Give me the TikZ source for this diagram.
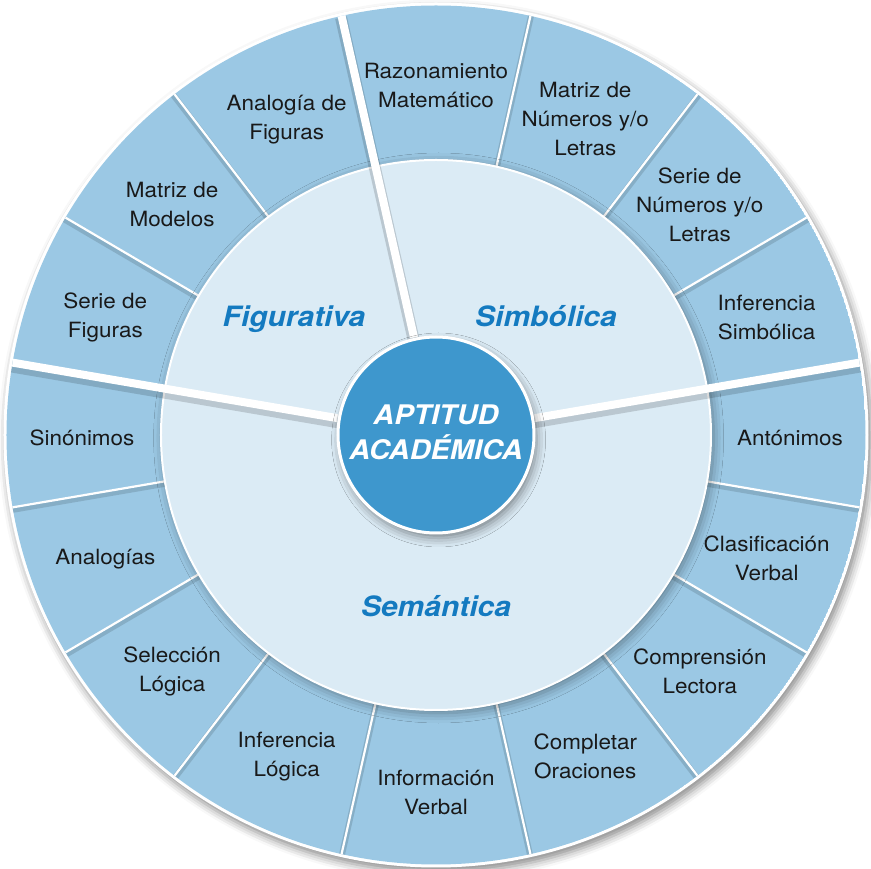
\documentclass[tikz,border=0pt]{standalone}
\usepackage{fontspec}
\setmainfont{TeX Gyre Heros}[FakeStretch=1.07]
\usetikzlibrary{shadows.blur}
\definecolor{ringblue}{RGB}{155,200,228}
\definecolor{discblue}{RGB}{219,235,245}
\definecolor{coreblue}{RGB}{62,151,205}
\definecolor{areablue}{RGB}{20,122,192}

\begin{document}
\begin{tikzpicture}[x=1pt,y=1pt,
		segment/.style={align=center, text=black!90, yshift=-3pt, font=\fontsize{21}{29}\selectfont},
		area/.style={anchor=base, text=areablue, font=\fontsize{28}{32}\selectfont\bfseries\itshape},
		core/.style={circle, fill=coreblue, draw=white, line width=3pt, minimum size=196pt, inner sep=0pt,
			align=center, text=white, text depth=6pt, font=\fontsize{27}{35}\selectfont\bfseries\itshape,
			blur shadow={shadow yshift=-5pt, shadow blur radius=9pt, shadow opacity=45}},
		thinsep/.style={draw=white, line width=2.2pt,
			preaction={draw=black, opacity=0.13, line width=6pt, transform canvas={yshift=-2.5pt}}},
		thicksep/.style={draw=white, line width=8pt,
			preaction={draw=black, opacity=0.15, line width=12pt, transform canvas={yshift=-4pt}}}
	]
	\useasboundingbox (-436,-434) rectangle (435,435);
	
	\fill[white, blur shadow={shadow xshift=3pt, shadow yshift=-5pt, shadow blur radius=8pt, shadow opacity=45}] (0,0) circle (432.5);
	
	\begin{scope}
		\clip (0,0) circle (429.5);
		\fill[ringblue] (0,0) circle (429.5);
		
		\draw[thinsep] (30.4:270) -- (30.4:432);
		\draw[thinsep] (52.5:270) -- (52.5:432);
		\draw[thinsep] (77.3:270) -- (77.3:432);
		\draw[thinsep] (127.5:270) -- (127.5:432);
		\draw[thinsep] (149.6:270) -- (149.6:432);
		\draw[thinsep] (189.7:270) -- (189.7:432);
		\draw[thinsep] (210.4:270) -- (210.4:432);
		\draw[thinsep] (232.5:270) -- (232.5:432);
		\draw[thinsep] (257.3:270) -- (257.3:432);
		\draw[thinsep] (282.7:270) -- (282.7:432);
		\draw[thinsep] (307.5:270) -- (307.5:432);
		\draw[thinsep] (329.6:270) -- (329.6:432);
		\draw[thinsep] (350.3:270) -- (350.3:432);
		
		\fill[discblue, draw=white, line width=2pt,
			blur shadow={shadow yshift=-3pt, shadow blur radius=10pt, shadow opacity=40}] (0,0) circle (275);
		
		\draw[thicksep] (9.7:100) -- (9.7:432);
		\draw[thicksep] (102.7:100) -- (102.7:432);
		\draw[thicksep] (170.3:100) -- (170.3:432);
	\end{scope}
	
	\node[core] (core) at (0,0) {APTITUD\\ACADÉMICA};
	
	\node[area] (figurativa) at (-142,108) {Figurativa};
	\node[area] (simbolica) at (110,108) {Simbólica};
	\node[area] (semantica) at (0,-182) {Semántica};
	
	\node[segment] (s_0) at (0:354) {Antónimos};
	\node[segment] (s_1) at (20.05:352) {Inferencia\\Simbólica};
	\node[segment] (s_2) at (41.45:352) {Serie de\\Números y/o\\Letras};
	\node[segment] (s_3) at (64.9:352) {Matriz de\\Números y/o\\Letras};
	\node[segment] (s_4) at (90:352) {Razonamiento\\Matemático};
	\node[segment] (s_5) at (115.1:352) {Analogía de\\Figuras};
	\node[segment] (s_6) at (138.55:352) {Matriz de\\Modelos};
	\node[segment] (s_7) at (159.95:352) {Serie de\\Figuras};
	\node[segment] (s_8) at (180:354) {Sinónimos};
	\node[segment] (s_9) at (200.05:352) {Analogías};
	\node[segment] (s_10) at (221.45:352) {Selección\\Lógica};
	\node[segment] (s_11) at (244.9:352) {Inferencia\\Lógica};
	\node[segment] (s_12) at (270:354) {Información\\Verbal};
	\node[segment] (s_13) at (295.1:352) {Completar\\Oraciones};
	\node[segment] (s_14) at (318.55:352) {Comprensión\\Lectora};
	\node[segment] (s_15) at (339.95:352) {Clasificación\\Verbal};
\end{tikzpicture}
\end{document}
